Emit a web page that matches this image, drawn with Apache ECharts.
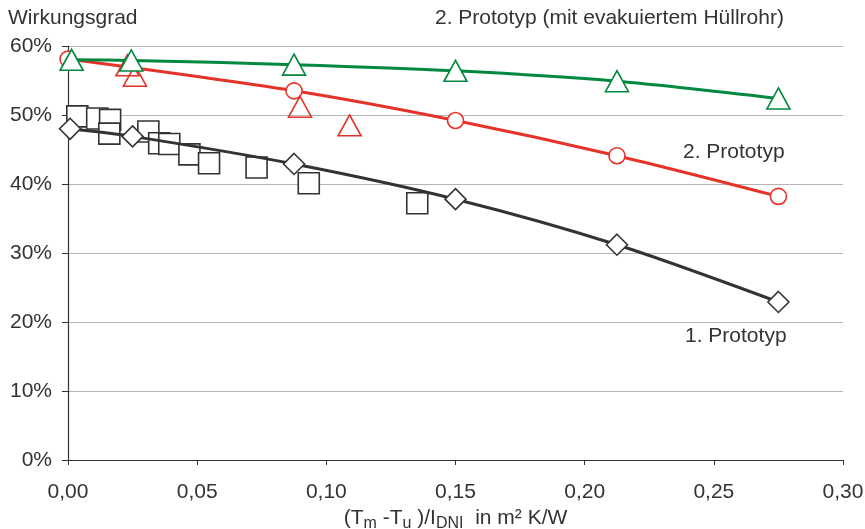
<!DOCTYPE html>
<html lang="de" style="height: 100%">
<head>
  <meta charset="utf-8">
</head>
<body style="height: 100%; margin: 0; background: #fff">
  <div id="container" style="width: 865px; height: 529px"></div>
  <script type="text/javascript" src="https://cdn.jsdelivr.net/npm/echarts@6/dist/echarts.min.js"></script>
  <script type="text/javascript">
    // x = (Tm - Tu)/IDNI, y = Wirkungsgrad in %
    var xTicks = [0, 0.05, 0.10, 0.15, 0.20, 0.25, 0.30];
    var yTicks = [0, 10, 20, 30, 40, 50, 60];

    // 2. Prototyp mit evakuiertem Hüllrohr (grün)
    var evakX = [0.0014, 0.0245, 0.0875, 0.15, 0.2125, 0.275];
    var evakY = [58.0, 57.9, 57.3, 56.4, 54.9, 52.4];

    // 2. Prototyp (rot, Kreise)
    var proto2X = [0.0, 0.0875, 0.15, 0.2125, 0.275];
    var proto2Y = [58.1, 53.5, 49.2, 44.1, 38.2];

    // 2. Prototyp Einzelmessungen (rote Dreiecke)
    var proto2MessX = [0.023, 0.0259, 0.0898, 0.109];
    var proto2MessY = [57.2, 55.7, 51.2, 48.5];

    // 1. Prototyp (schwarz, Rauten)
    var proto1X = [0.0008, 0.025, 0.0875, 0.15, 0.2125, 0.275];
    var proto1Y = [48.0, 46.9, 42.9, 37.8, 31.2, 22.9];

    // 1. Prototyp Einzelmessungen (Quadrate)
    var proto1MessX = [0.0036, 0.0113, 0.0163, 0.016, 0.0311, 0.0353, 0.0392, 0.047, 0.0546, 0.073, 0.0932, 0.1352];
    var proto1MessY = [49.8, 49.5, 49.3, 47.3, 47.6, 45.9, 45.8, 44.3, 43.0, 42.4, 40.1, 37.2];

    function pairs(xs, ys) {
      return xs.map(function (x, i) { return [x, ys[i]]; });
    }

    var dom = document.getElementById('container');
    var myChart = echarts.init(dom, null, { renderer: 'canvas' });

    var green = '#00893f';
    var red = '#e63329';
    var dark = '#333333';
    var font = 'Liberation Sans, Arial, sans-serif';

    var option = {
      animation: false,
      grid: { left: 68, right: 22, top: 46, bottom: 69, outerBoundsMode: 'none', containLabel: false },
      xAxis: {
        type: 'value',
        min: xTicks[0],
        max: xTicks[xTicks.length - 1],
        interval: 0.05,
        axisLine: { show: true, lineStyle: { color: dark, width: 1.2 } },
        axisTick: { show: true, length: 5, lineStyle: { color: dark } },
        splitLine: { show: false },
        axisLabel: {
          color: dark, fontSize: 21, fontFamily: font, margin: 22,
          formatter: function (v) { return v.toFixed(2).replace('.', ','); }
        },
        name: '{n|(T}{s|m}{n| -T}{s|u}{n| )/I}{s|DNI}{n|  in m² K/W}',
        nameLocation: 'middle',
        nameGap: 43,
        nameTextStyle: {
          rich: {
            n: { fontSize: 21, color: dark, fontFamily: font, verticalAlign: 'bottom', lineHeight: 24 },
            s: { fontSize: 16, color: dark, fontFamily: font, verticalAlign: 'bottom', lineHeight: 18, padding: [0, 0, -3, 0] }
          }
        }
      },
      yAxis: {
        type: 'value',
        min: yTicks[0],
        max: yTicks[yTicks.length - 1],
        interval: 10,
        axisLine: { show: true, lineStyle: { color: dark, width: 1.2 } },
        axisTick: { show: true, length: 6, lineStyle: { color: dark } },
        splitLine: { show: true, lineStyle: { color: '#b4b4b4', width: 1.2 } },
        axisLabel: { color: dark, fontSize: 21, fontFamily: font, margin: 16, formatter: '{value}%' }
      },
      graphic: [
        { type: 'text', left: 8, top: 8, style: { text: 'Wirkungsgrad', fill: dark, font: '21px ' + font } },
        { type: 'text', left: 435, top: 8, style: { text: '2. Prototyp (mit evakuiertem Hüllrohr)', fill: dark, font: '21px ' + font } },
        { type: 'text', left: 683, top: 142, style: { text: '2. Prototyp', fill: dark, font: '21px ' + font } },
        { type: 'text', left: 685, top: 326, style: { text: '1. Prototyp', fill: dark, font: '21px ' + font } }
      ],
      series: [
        {
          name: '1. Prototyp Messung',
          type: 'scatter',
          symbol: 'rect',
          symbolSize: 21,
          itemStyle: { color: '#fff', borderColor: dark, borderWidth: 1.6, opacity: 1 },
          data: pairs(proto1MessX, proto1MessY),
          z: 2
        },
        {
          name: '1. Prototyp',
          type: 'line',
          smooth: 0.3,
          symbol: 'diamond',
          symbolSize: [21, 21],
          lineStyle: { color: dark, width: 3 },
          itemStyle: { color: '#fff', borderColor: dark, borderWidth: 1.6 },
          data: pairs(proto1X, proto1Y),
          z: 3
        },
        {
          name: '2. Prototyp',
          type: 'line',
          smooth: 0.3,
          symbol: 'circle',
          symbolSize: 16,
          lineStyle: { color: red, width: 3 },
          itemStyle: { color: '#fff', borderColor: red, borderWidth: 1.6 },
          data: pairs(proto2X, proto2Y),
          z: 4
        },
        {
          name: '2. Prototyp Messung',
          type: 'scatter',
          symbol: 'triangle',
          symbolSize: [23, 21],
          itemStyle: { color: 'rgba(255,255,255,0)', borderColor: red, borderWidth: 1.6, opacity: 1 },
          data: pairs(proto2MessX, proto2MessY),
          z: 5
        },
        {
          name: '2. Prototyp evakuiert',
          type: 'line',
          smooth: 0.3,
          symbol: 'triangle',
          symbolSize: [23, 21],
          lineStyle: { color: green, width: 3 },
          itemStyle: { color: '#fff', borderColor: green, borderWidth: 1.6 },
          data: pairs(evakX, evakY),
          z: 6
        }
      ]
    };

    myChart.setOption(option);
    window.addEventListener('resize', myChart.resize);
  </script>
</body>
</html>
